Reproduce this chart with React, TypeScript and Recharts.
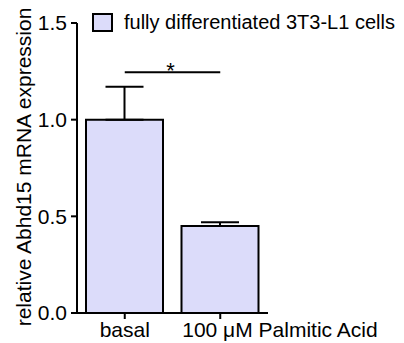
import { Bar, BarChart, ErrorBar, Label, Legend, ReferenceLine, XAxis, YAxis } from "recharts";

// Abhd15 expression in fully differentiated 3T3-L1 cells, basal vs palmitic acid.

const categories = ["basal", "100 \u03bcM Palmitic Acid"];
const means = [1.0, 0.45];
const sem = [0.17, 0.02];
const yTicks = [0, 0.5, 1.0, 1.5];
const seriesName = "fully differentiated 3T3-L1 cells";
const yLabel = "relative Abhd15 mRNA expression";
const sigLevel = 1.245;
const sigMark = "*";

const FONT = "'Liberation Sans', Arial, sans-serif";
const FILL = "#dcdcfa";
const FS = 21;

const data = categories.map((name, i) => ({
  name,
  value: means[i],
  err: [0, sem[i]],
}));

function XTick(props: any) {
  const { x, y, payload, index } = props;
  // second label in the original hangs off to the right of its tick
  const shifted = index === 1;
  return (
    <text
      x={shifted ? x - 38 : x}
      y={y + 16}
      textAnchor={shifted ? "start" : "middle"}
      fill="#000"
      fontSize={FS}
      fontFamily={FONT}
    >
      {payload.value}
    </text>
  );
}

function LegendBox() {
  return (
    <div
      style={{
        display: "flex",
        alignItems: "center",
        fontFamily: FONT,
        fontSize: 20,
        color: "#000",
        whiteSpace: "nowrap",
      }}
    >
      <span
        style={{
          display: "inline-block",
          width: 17,
          height: 15,
          border: "2px solid #000",
          background: FILL,
          marginRight: 11,
        }}
      />
      {seriesName}
    </div>
  );
}

export default function App() {
  return (
    <div style={{ position: "absolute", left: 0, top: 0, background: "#fff" }}>
      <BarChart
        width={404}
        height={343}
        data={data}
        margin={{ top: 23, right: 136, bottom: 0, left: 0 }}
        style={{ fontFamily: FONT }}
      >
        <XAxis
          dataKey="name"
          height={30}
          stroke="#000"
          axisLine={{ stroke: "#000", strokeWidth: 2 }}
          tickLine={{ stroke: "#000", strokeWidth: 2 }}
          tickSize={6}
          tick={<XTick />}
          interval={0}
        />
        <YAxis
          width={77}
          domain={[0, 1.5]}
          ticks={yTicks}
          tickFormatter={(v: number) => v.toFixed(1)}
          axisLine={{ stroke: "#000", strokeWidth: 2 }}
          tickLine={{ stroke: "#000", strokeWidth: 2 }}
          tickSize={6}
          tickMargin={4}
          tick={{ fill: "#000", fontSize: FS, fontFamily: FONT }}
        >
          <Label
            content={() => (
              <text
                x={31}
                y={167}
                transform="rotate(-90 31 167)"
                textAnchor="middle"
                fill="#000"
                fontSize={FS}
                fontFamily={FONT}
              >
                {yLabel}
              </text>
            )}
          />
        </YAxis>
        <Legend
          layout="horizontal"
          verticalAlign="middle"
          align="center"
          wrapperStyle={{ top: 11, left: 92, width: "auto" }}
          content={() => <LegendBox />}
        />
        <Bar
          dataKey="value"
          name={seriesName}
          fill={FILL}
          stroke="#000"
          strokeWidth={2}
          barSize={77}
          isAnimationActive={false}
        >
          <ErrorBar
            dataKey="err"
            width={19}
            stroke="#000"
            strokeWidth={2}
            isAnimationActive={false}
          />
        </Bar>
        <ReferenceLine
          segment={[
            { x: categories[0], y: sigLevel },
            { x: categories[1], y: sigLevel },
          ]}
          stroke="#000"
          strokeWidth={2}
          label={(p: any) => {
            const vb = p.viewBox || {};
            const cx = (vb.x ?? 0) + (vb.width ?? 0) / 2;
            return (
              <text
                x={cx - 2}
                y={(vb.y ?? 0) + 6}
                textAnchor="middle"
                fill="#000"
                fontSize={22}
                fontFamily={FONT}
              >
                {sigMark}
              </text>
            );
          }}
        />
      </BarChart>
    </div>
  );
}
